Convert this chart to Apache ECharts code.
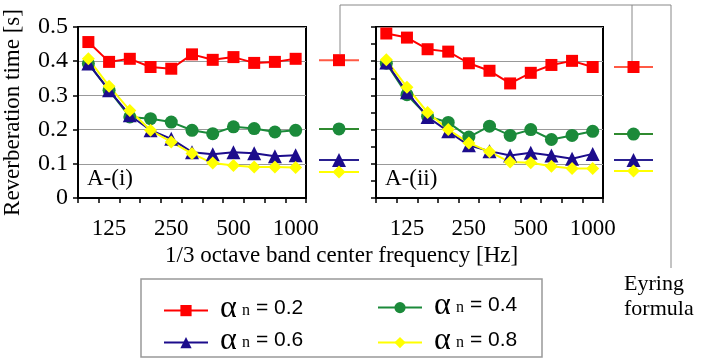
<!DOCTYPE html>
<html>
<head>
<meta charset="utf-8">
<script src="https://cdn.jsdelivr.net/npm/echarts@6.0.0/dist/echarts.min.js"></script>
<style>
  html, body { margin: 0; padding: 0; background: #fff; }
  #chart { width: 702px; height: 361px; }
</style>
</head>
<body>
<div id="chart"></div>
<script>
// 1/3 octave band centre frequencies
const freqs = ['100', '125', '160', '200', '250', '315', '400', '500', '630', '800', '1000'];
const shownFreqs = ['125', '250', '500', '1000'];

// A-(i)
const leftA02 = [0.456, 0.398, 0.407, 0.383, 0.378, 0.420, 0.404, 0.412, 0.395, 0.398, 0.407];
const leftA04 = [0.393, 0.315, 0.237, 0.232, 0.222, 0.198, 0.188, 0.208, 0.203, 0.193, 0.198];
const leftA06 = [0.393, 0.315, 0.242, 0.198, 0.173, 0.134, 0.128, 0.134, 0.131, 0.122, 0.125];
const leftA08 = [0.407, 0.327, 0.256, 0.198, 0.164, 0.130, 0.102, 0.095, 0.091, 0.091, 0.089];

// A-(ii)
const rightA02 = [0.481, 0.469, 0.435, 0.428, 0.394, 0.372, 0.335, 0.366, 0.389, 0.401, 0.383];
const rightA04 = [0.394, 0.302, 0.239, 0.221, 0.178, 0.210, 0.183, 0.200, 0.171, 0.183, 0.195];
const rightA06 = [0.396, 0.309, 0.237, 0.195, 0.154, 0.137, 0.124, 0.132, 0.124, 0.115, 0.129];
const rightA08 = [0.404, 0.324, 0.250, 0.200, 0.161, 0.135, 0.105, 0.103, 0.093, 0.086, 0.086];

// Eyring formula, order: 0.2, 0.4, 0.6, 0.8
const eyringLeft = [0.403, 0.202, 0.111, 0.076];
const eyringRight = [0.383, 0.187, 0.111, 0.079];

const alphas = ['0.2', '0.4', '0.6', '0.8'];

const serif = 'Liberation Serif';
const sans = 'Liberation Sans';
const styles = {
  '0.2': { color: '#ff0000', line: '#ff0000', eyLine: '#ff5a45', symbol: 'rect', size: 12 },
  '0.4': { color: '#1b8a3a', line: '#1b8a3a', eyLine: '#2f8a2f', symbol: 'circle', size: 13 },
  '0.6': { color: '#1c0c8c', line: '#1c0c8c', eyLine: '#2a2090', symbol: 'triangle', size: 14 },
  '0.8': { color: '#ffff00', line: '#ffff00', eyLine: '#ffff00', symbol: 'diamond', size: 13 }
};

const chart = echarts.init(document.getElementById('chart'));

function mainSeries(name, data, idx) {
  const s = styles[name];
  return {
    name: name,
    type: 'line',
    xAxisIndex: idx,
    yAxisIndex: idx,
    data: data,
    symbol: s.symbol,
    symbolSize: s.size,
    showAllSymbol: true,
    itemStyle: { color: s.color },
    lineStyle: { color: s.line, width: 2 },
    z: 3
  };
}

function eyringSeries(name, v, idx) {
  const s = styles[name];
  return {
    name: name,
    type: 'line',
    xAxisIndex: idx,
    yAxisIndex: idx,
    data: [[0, v], [0.5, v], [1, v]],
    symbol: s.symbol,
    symbolSize: (val, p) => (p.dataIndex === 1 ? s.size : 0),
    showAllSymbol: true,
    itemStyle: { color: s.color },
    lineStyle: { color: s.eyLine, width: 2 },
    z: 3
  };
}

const plotTop = 27, plotH = 171;
const grids = [
  { left: 78, top: plotTop, width: 228, height: plotH, show: true, borderColor: '#000', borderWidth: 2 },
  { left: 376, top: plotTop, width: 227, height: plotH, show: true, borderColor: '#000', borderWidth: 2 },
  { left: 319, top: plotTop, width: 40, height: plotH },
  { left: 614, top: plotTop, width: 39, height: plotH }
];

function catAxis(gi) {
  return {
    type: 'category',
    gridIndex: gi,
    data: freqs,
    boundaryGap: true,
    axisLine: { lineStyle: { color: '#000', width: 2 } },
    axisTick: { show: true, interval: 0, length: 5, lineStyle: { color: '#000', width: 1.5 } },
    axisLabel: {
      interval: (i, v) => shownFreqs.includes(v),
      margin: 19,
      color: '#000',
      fontFamily: serif,
      fontSize: 23
    }
  };
}

function valAxis(gi, labels) {
  return {
    type: 'value',
    gridIndex: gi,
    min: 0,
    max: 0.5,
    interval: 0.1,
    axisLine: { show: true, lineStyle: { color: '#000', width: 2 } },
    axisTick: { show: true, length: 5, lineStyle: { color: '#000', width: 1.5 } },
    minorTick: { show: !labels, splitNumber: 2, length: 5, lineStyle: { color: '#000', width: 1.5 } },
    splitLine: { show: true, lineStyle: { color: '#999', width: 1 } },
    axisLabel: {
      show: labels,
      margin: 10,
      color: '#000',
      fontFamily: serif,
      fontSize: 24,
      formatter: v => (v === 0 ? '0' : String(Math.round(v * 10) / 10))
    },
    name: labels ? 'Reverberation time [s]' : '',
    nameLocation: 'middle',
    nameGap: 54,
    nameTextStyle: { color: '#000', fontFamily: serif, fontSize: 23 }
  };
}

function hiddenX(gi) {
  return { type: 'value', gridIndex: gi, min: 0, max: 1, show: false };
}
function hiddenY(gi) {
  return { type: 'value', gridIndex: gi, min: 0, max: 0.5, show: false };
}

const series = [];
const leftSets = [leftA02, leftA04, leftA06, leftA08];
const rightSets = [rightA02, rightA04, rightA06, rightA08];
alphas.forEach((a, i) => {
  series.push(mainSeries(a, leftSets[i], 0));
  series.push(mainSeries(a, rightSets[i], 1));
  series.push(eyringSeries(a, eyringLeft[i], 2));
  series.push(eyringSeries(a, eyringRight[i], 3));
});

// legend icons come from the legend, the labels are drawn next to them
const legendPos = [
  { name: '0.2', left: 158, cy: 307 },
  { name: '0.4', left: 372, cy: 304 },
  { name: '0.6', left: 158, cy: 339 },
  { name: '0.8', left: 372, cy: 339 }
];

const legends = legendPos.map(p => ({
  data: [p.name],
  left: p.left,
  top: p.cy - 7,
  selectedMode: false,
  itemWidth: 44,
  itemHeight: 14,
  formatter: () => '',
  textStyle: { fontSize: 10, lineHeight: 14 }
}));

const legendLabels = [];
legendPos.forEach(p => {
  const x = p.left + 62;
  legendLabels.push(
    { type: 'text', x: x, y: p.cy + 2, style: { text: 'α', font: '32px "Liberation Serif", "DejaVu Serif", serif', fill: '#000', verticalAlign: 'middle' } },
    { type: 'text', x: x + 22, y: p.cy + 4, style: { text: 'n', font: '16px "Liberation Serif", serif', fill: '#000', verticalAlign: 'middle' } },
    { type: 'text', x: x + 36, y: p.cy + 1, style: { text: '= ' + p.name, font: '21px "Liberation Sans", sans-serif', fill: '#000', verticalAlign: 'middle' } }
  );
});

const lineCol = '#888';
const option = {
  animation: false,
  backgroundColor: '#fff',
  grid: grids,
  xAxis: [catAxis(0), catAxis(1), hiddenX(2), hiddenX(3)],
  yAxis: [valAxis(0, true), valAxis(1, false), hiddenY(2), hiddenY(3)],
  legend: legends,
  series: series,
  graphic: [
    { type: 'text', left: 87, top: 167, style: { text: 'A-(i)', fontFamily: serif, fontSize: 23, fill: '#000' } },
    { type: 'text', left: 385, top: 167, style: { text: 'A-(ii)', fontFamily: serif, fontSize: 23, fill: '#000' } },
    { type: 'text', left: 165, top: 244, style: { text: '1/3 octave band center frequency [Hz]', fontFamily: serif, fontSize: 23, fill: '#000' } },
    { type: 'text', left: 624, top: 272, style: { text: 'Eyring\nformula', fontFamily: serif, fontSize: 22, lineHeight: 25, fill: '#000' } },
    { type: 'polyline', shape: { points: [[340, 54], [340, 5], [671, 5], [671, 268]] }, style: { stroke: lineCol, lineWidth: 1, fill: null } },
    { type: 'line', shape: { x1: 632, y1: 5, x2: 632, y2: 61 }, style: { stroke: lineCol, lineWidth: 1 } },
    { type: 'rect', shape: { x: 141, y: 279, width: 401, height: 78 }, style: { stroke: '#999', lineWidth: 1.5, fill: null } }
  ].concat(legendLabels)
};

chart.setOption(option);
</script>
</body>
</html>
